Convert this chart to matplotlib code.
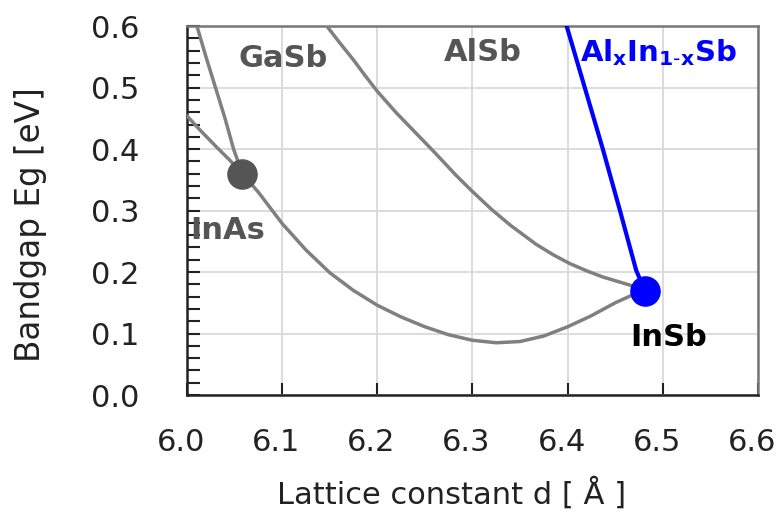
import numpy as np
from matplotlib import pyplot as plt
from matplotlib import transforms

plt.rcParams['font.family'] = ['DejaVu Sans']
plt.rcParams['mathtext.default'] = 'bf'

# InAs - InSb bowing curve
inassb_d = [6.000, 6.015, 6.030, 6.045, 6.058, 6.075, 6.100, 6.125, 6.150, 6.175, 6.200, 6.225,
            6.250, 6.275, 6.300, 6.325, 6.350, 6.375, 6.400, 6.425, 6.450, 6.470, 6.481]
inassb_eg = [0.454, 0.429, 0.405, 0.382, 0.360, 0.330, 0.279, 0.236, 0.199, 0.170, 0.146, 0.127,
             0.111, 0.098, 0.089, 0.085, 0.087, 0.096, 0.111, 0.129, 0.150, 0.164, 0.170]

# steep curve from InAs (GaSb side)
gasb_d = [6.0583, 6.049, 6.040, 6.030, 6.020, 6.0105]
gasb_eg = [0.360, 0.400, 0.450, 0.500, 0.550, 0.600]

# curve ending at InSb (AlSb label)
alsb_d = [6.147, 6.160, 6.175, 6.187, 6.200, 6.220, 6.240, 6.260, 6.283, 6.300, 6.320, 6.340,
          6.367, 6.385, 6.402, 6.420, 6.437, 6.452, 6.465, 6.481]
alsb_eg = [0.600, 0.574, 0.545, 0.520, 0.494, 0.459, 0.427, 0.395, 0.357, 0.331, 0.302, 0.276,
           0.245, 0.228, 0.214, 0.202, 0.192, 0.185, 0.179, 0.170]

# AlxIn1-xSb
alinsb_d = [6.399, 6.418, 6.437, 6.455, 6.472, 6.481]
alinsb_eg = [0.600, 0.500, 0.400, 0.300, 0.203, 0.170]

# binary points
inas = (6.0583, 0.360)
insb = (6.4814, 0.170)

fig = plt.figure(figsize=(7.79, 5.13), dpi=100)
ax = fig.add_axes([0.240, 0.230, 0.733, 0.719])

gray = '#808080'
ax.plot(inassb_d, inassb_eg, color=gray, lw=2.5, zorder=3)
ax.plot(gasb_d, gasb_eg, color=gray, lw=2.5, zorder=3)
ax.plot(alsb_d, alsb_eg, color=gray, lw=2.5, zorder=3)
ax.plot(alinsb_d, alinsb_eg, color='#0000ff', lw=3, zorder=4)
ax.plot(*inas, 'o', color='#555555', ms=21, zorder=5)
ax.plot(*insb, 'o', color='#0000ff', ms=21, zorder=5)

fs = 22
ax.text(6.101, 0.548, 'GaSb', fontsize=fs, fontweight='bold', color='#555555', ha='center', va='center')
ax.text(6.311, 0.557, 'AlSb', fontsize=fs, fontweight='bold', color='#555555', ha='center', va='center')
ax.text(6.413, 0.557, r'Al$_x$In$_{1\text{-}x}$Sb', fontsize=21, fontweight='bold', color='#0000ff',
        ha='left', va='center')
ax.text(6.043, 0.268, 'InAs', fontsize=fs, fontweight='bold', color='#555555', ha='center', va='center')
ax.text(6.506, 0.094, 'InSb', fontsize=fs, fontweight='bold', color='black', ha='center', va='center')

ax.set_xlim(6.0, 6.6)
ax.set_ylim(0.0, 0.6)
ax.set_xticks(np.arange(6.0, 6.61, 0.1))
ax.set_yticks(np.arange(0.0, 0.61, 0.1))
ax.set_yticks(np.arange(0.0, 0.61, 0.02), minor=True)
ax.set_xticklabels(['6.0', '6.1', '6.2', '6.3', '6.4', '6.5', '6.6'])
ax.set_yticklabels(['0.0', '0.1', '0.2', '0.3', '0.4', '0.5', '0.6'])
ax.grid(True, which='major', color='#d9d9d9', lw=1.3, zorder=0)
ax.set_axisbelow(True)
ax.tick_params(axis='both', which='both', direction='in', length=9, width=1.5, colors='#222222',
               labelsize=fs, labelcolor='#222222')
ax.tick_params(axis='y', which='both', pad=34)
ax.tick_params(axis='x', which='major', pad=24)

# x tick labels sit a few pixels left of their gridlines in the reference
shift = transforms.ScaledTranslation(-0.06, 0, fig.dpi_scale_trans)
for lbl in ax.get_xticklabels():
    lbl.set_transform(lbl.get_transform() + shift)

for side in ['left', 'bottom']:
    ax.spines[side].set_color('#222222')
    ax.spines[side].set_linewidth(1.8)
for side in ['top', 'right']:
    ax.spines[side].set_color('#777777')
    ax.spines[side].set_linewidth(1.8)

ax.set_xlabel('Lattice constant d [ Å ]', fontsize=22, color='#222222')
ax.set_ylabel('Bandgap Eg [eV]', fontsize=23.5, color='#222222')
ax.xaxis.set_label_coords(0.464, -0.222)
ax.yaxis.set_label_coords(-0.245, 0.462)

fig.savefig('out.png', dpi=100)
